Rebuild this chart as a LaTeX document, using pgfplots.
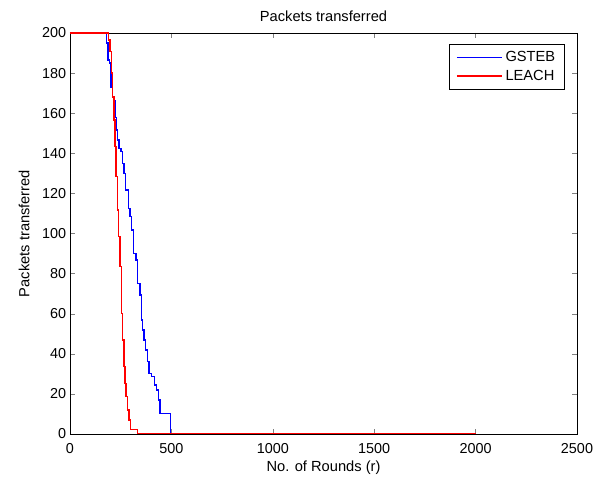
\documentclass[border=0pt]{standalone}
\usepackage{pgfplots}
\pgfplotsset{compat=1.18}
\usepackage{fontspec}
\setmainfont{Liberation Sans}
\definecolor{mblue}{RGB}{0,0,255}
\definecolor{mred}{RGB}{255,0,0}
\begin{document}
\fontsize{11}{13}\selectfont
\begin{tikzpicture}
\fill[white] (-52.5pt,-32.25pt) rectangle (397.5pt,325.5pt);
\useasboundingbox (-52.5pt,-32.25pt) rectangle (397.5pt,325.5pt);
\begin{axis}[
  at={(0,0)}, anchor=south west,
  scale only axis, width=380.25pt, height=300.75pt,
  xmin=0, xmax=2500, ymin=0, ymax=200,
  xtick={0,500,...,2500}, ytick={0,20,...,200},
  tick align=inside, tick pos=both,
  major tick length=3.5pt,
  /pgf/number format/assume math mode=true,
  scaled x ticks=false,
  xticklabel style={/pgf/number format/1000 sep={}, yshift=-3pt},
  yticklabel style={xshift=1pt},
  tick label style={font=\fontsize{10.8}{13}\selectfont},
  label style={font=\fontsize{11}{13}\selectfont},
  title style={font=\fontsize{11}{13}\selectfont, yshift=-1pt},
  title={Packets transferred},
  xlabel={No. of Rounds (r)},
  ylabel={Packets transferred},
  xlabel style={yshift=2pt},
  ylabel style={yshift=2pt},
  axis line style={line width=0.5pt},
  legend style={at={(0.976,0.973)}, anchor=north east, draw=black, fill=white, font=\fontsize{11}{13}\selectfont, inner xsep=5pt, inner ysep=3.5pt, row sep=0.5pt, legend cell align=left},
  legend image post style={sharp plot},
  legend image code/.code={\draw[mark repeat=2,mark phase=2,#1] plot coordinates {(0pt,0pt) (17pt,0pt) (34pt,0pt)};},
]
\addplot[const plot, color=mblue, line width=1pt, mark=none] coordinates {
(0,200) (177.5,200) (181,195) (187,186.5) (194,185) (202,173) (210,168) (217,166) (222,158)
(228,151.6) (233,146.6) (242,142.5) (251,140.8) (260,135) (266,130) (274.5,121.7) (288,112.6)
(296,108.4) (304,101.7) (312,90) (325,86.8) (332,75) (345,69.3) (353,56.9) (358,51.9)
(365,46.9) (371,41.9) (381,36.1) (390,30.3) (403,28.6) (416,24.4) (427,21.9) (435,17)
(444,10.3) (496,0) (2000,0)
};
\addlegendentry{GSTEB}
\addplot[const plot, color=mred, line width=1pt, mark=none] coordinates {
(0,200) (172.6,200) (189,196.5) (197,190.7) (205,180) (210,168) (217,156.6) (222,143.3)
(227,128.3) (233,111.7) (238,98.4) (247,83.4) (255,60.2) (260,46.9) (266,33.6) (271,25.3)
(276,18.6) (283,12) (291,7) (299,2.3) (332,0) (2000,0)
};
\addlegendentry{LEACH}
\end{axis}
\end{tikzpicture}
\end{document}
